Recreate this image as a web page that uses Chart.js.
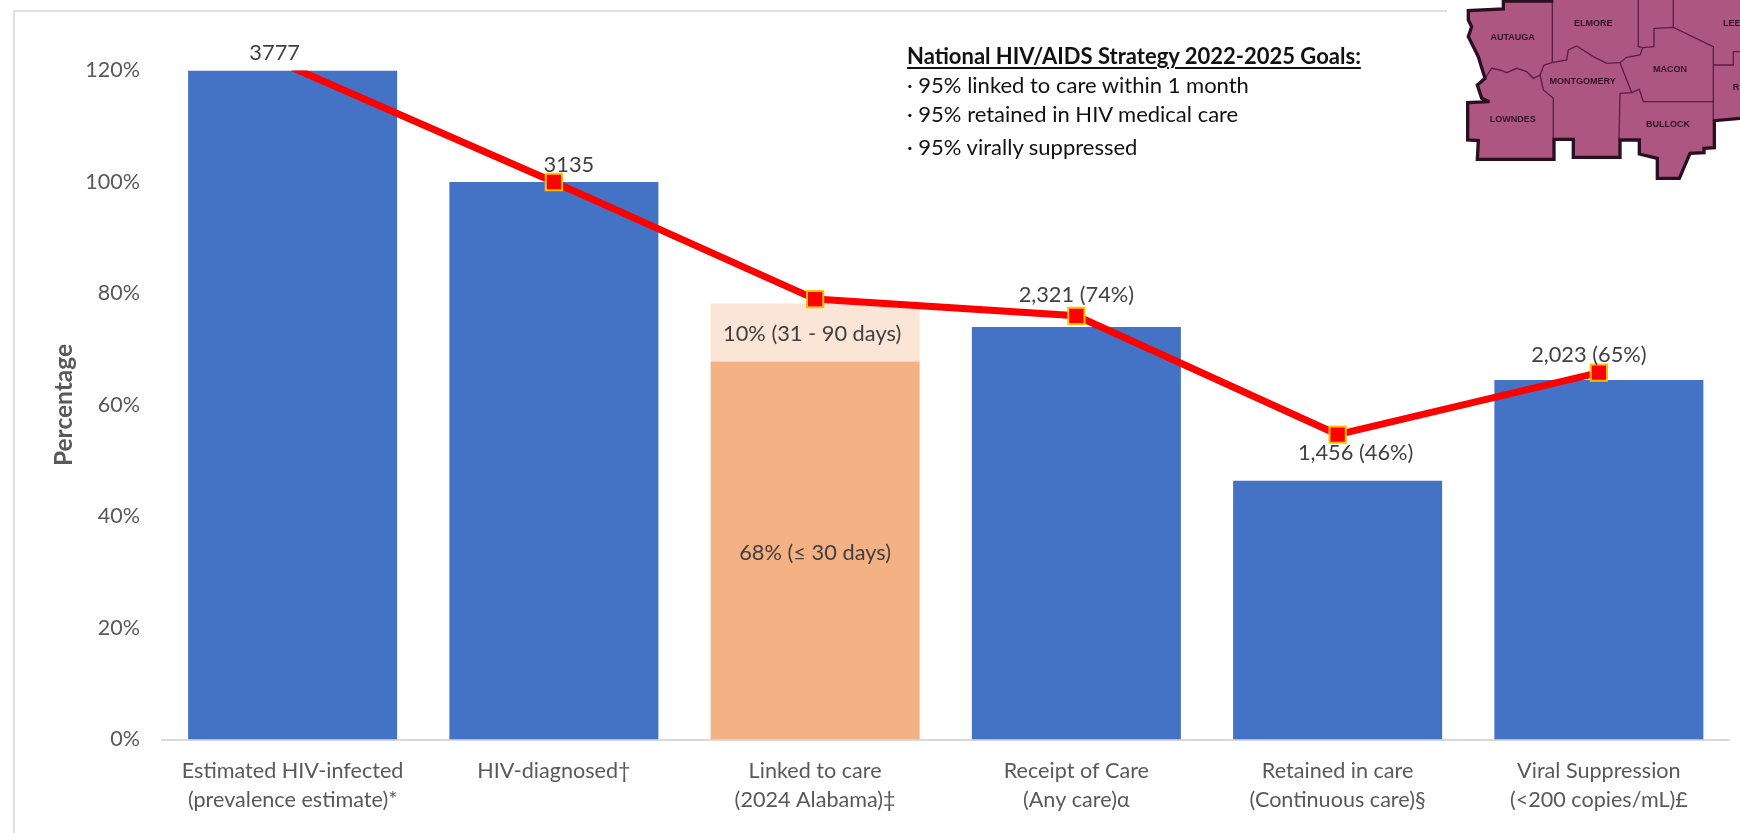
<!DOCTYPE html>
<html><head><meta charset="utf-8">
<style>
html,body{margin:0;padding:0;background:#fff;width:1740px;height:833px;overflow:hidden}
#c{position:absolute;left:0;top:0}
.frame{position:absolute;left:13px;top:10px;width:1434px;height:823px;border-left:2px solid #e0e0e0;border-top:2px solid #e0e0e0;box-sizing:border-box}
.goal{position:absolute;left:907px;font:22px "Lato",sans-serif;color:#111;white-space:nowrap;line-height:24px}
.goal.t{font-weight:700;text-decoration:underline;text-decoration-thickness:2px;text-underline-offset:3px}
svg{position:absolute;left:1400px;top:0;filter:blur(.5px)}
svg text{font:700 27px "Liberation Sans",sans-serif;fill:#321428;text-anchor:middle;dominant-baseline:middle}
</style>
</head><body>
<div class="frame"></div>
<canvas id="c" width="1740" height="833"></canvas>
<div class="goal t" style="top:44px">National HIV/AIDS Strategy 2022-2025 Goals:</div>
<div class="goal" style="top:73px">· 95% linked to care within 1 month</div>
<div class="goal" style="top:102px">· 95% retained in HIV medical care</div>
<div class="goal" style="top:135px">· 95% virally suppressed</div>
<svg width="340" height="200" viewBox="0 0 1020 600">
<path fill="#ad5682" d="M310,0 L310,25 L205,32 L205,60 L215,80 L205,110 L235,170 L255,235 L232,255 L245,295 L268,305 L203,308 L203,420 L235,422 L232,478 L462,478 L462,418 L520,418 L520,472 L660,472 L660,420 L718,420 L718,462 L772,475 L772,535 L838,535 L870,460 L912,458 L912,445 L943,443 L943,362 L1020,355 L1020,0 Z"/>
<g fill="none" stroke="#5a1f45" stroke-width="4">
<path d="M457,0 L457,188"/>
<path d="M255,235 L275,205 L300,210 L320,218 L350,205 L380,215 L400,235 L420,225 L432,195 L457,188 L500,180 L505,150 L530,138 L580,170 L620,190 L660,188 L680,172 L720,165 L728,143 L715,140 L715,0"/>
<path d="M420,225 L430,270 L460,295 L460,418"/>
<path d="M660,188 L695,278 L660,280 L657,420"/>
<path d="M695,278 L718,268 L730,305 L940,305"/>
<path d="M728,143 L762,140 L762,85 L820,82 L940,140 L940,362"/>
<path d="M820,82 L820,0"/>
<path d="M940,195 L1000,195 L1000,155 L1020,155"/>
</g>
<path fill="none" stroke="#2a0f20" stroke-width="10" d="M460,3 L310,3 L310,27 L205,32 L205,60 L215,80 L205,110 L235,170 L255,235 L232,255 L245,295 L268,305 L203,308 L203,420 L235,422 L232,478 L462,478 L462,418 L520,418 L520,472 L660,472 L660,420 L718,420 L718,462 L772,475 L772,535 L838,535 L870,460 L912,458 L912,445 L943,443 L943,362 L1020,355"/>
<text x="338" y="112">AUTAUGA</text><text x="580" y="72">ELMORE</text><text x="995" y="70">LEE</text>
<text x="810" y="210">MACON</text><text x="548" y="246">MONTGOMERY</text><text x="338" y="358">LOWNDES</text>
<text x="804" y="375">BULLOCK</text><text x="1008" y="262">R</text>
</svg>
<script src="https://cdn.jsdelivr.net/npm/chart.js@4"></script>
<script>
const categories = [
  ['Estimated HIV-infected','(prevalence estimate)*'],
  ['HIV-diagnosed†'],
  ['Linked to care','(2024 Alabama)‡'],
  ['Receipt of Care','(Any care)α'],
  ['Retained in care','(Continuous care)§'],
  ['Viral Suppression','(<200 copies/mL)£']
];
const blueBars   = [120, 100, null, 74, 46.4, 64.5];
const linkedLow  = [null, null, 67.8, null, null, null];
const linkedHigh = [null, null, 10.4, null, null, null];
const redLine    = [120.5, 100, 79, 76, 54.7, 65.8];
const topLabels  = ['3777','3135','','2,321 (74%)','1,456 (46%)','2,023 (65%)'];
const linkedLabels = ['68% (≤ 30 days)','10% (31 - 90 days)'];
const yTicks = [0,20,40,60,80,100,120];

const font = '"Lato",sans-serif';
const labelPlugin = {
  id:'labels',
  afterDatasetsDraw(chart){
    const {ctx,scales:{x,y}} = chart;
    ctx.save();
    ctx.font = '21.8px '+font;
    ctx.fillStyle = '#404040';
    ctx.textAlign = 'center';
    ctx.textBaseline = 'middle';
    const offs = [[-18,-18],[15,-17],[0,0],[0,-21],[18,-28],[-10,-18]];
    const anchors = [blueBars[0],redLine[1],0,redLine[3],blueBars[4],redLine[5]];
    topLabels.forEach((t,i)=>{
      if(!t) return;
      ctx.fillText(t, x.getPixelForValue(i)+offs[i][0], y.getPixelForValue(anchors[i])+offs[i][1]);
    });
    ctx.fillText(linkedLabels[0], x.getPixelForValue(2), y.getPixelForValue(33.5));
    ctx.fillText(linkedLabels[1], x.getPixelForValue(2)-3, y.getPixelForValue(72.7));
    ctx.restore();
  }
};

new Chart(document.getElementById('c'),{
  data:{
    labels:categories,
    datasets:[
      {type:'line',data:redLine,order:0,borderColor:'#ff0000',borderWidth:7,tension:0,clip:0,
       pointStyle:'rect',pointBackgroundColor:'#ff0000',pointBorderColor:'#ffc000',pointBorderWidth:2,
       pointRadius:[0,11.5,11.5,11.5,11.5,11.5],pointHoverRadius:11.5,stack:'line'},
      {type:'bar',data:blueBars,order:1,backgroundColor:'#4472c4',barPercentage:1,categoryPercentage:0.8,stack:'b'},
      {type:'bar',data:linkedLow,order:1,backgroundColor:'#f4b183',barPercentage:1,categoryPercentage:0.8,stack:'b'},
      {type:'bar',data:linkedHigh,order:1,backgroundColor:'#fbe5d6',barPercentage:1,categoryPercentage:0.8,stack:'b'}
    ]
  },
  options:{
    responsive:false,animation:false,
    layout:{autoPadding:false,padding:{top:70.5,right:10.5,left:0,bottom:0}},
    plugins:{legend:{display:false},tooltip:{enabled:false}},
    scales:{
      x:{stacked:true,
         grid:{display:false,drawTicks:false},
         border:{color:'#d9d9d9',width:2},
         ticks:{color:'#595959',font:{family:font,size:21.6,lineHeight:1.35},padding:17,maxRotation:0,autoSkip:false},
         afterFit(s){s.height=93.5;s.paddingRight=0;s.paddingLeft=0;}},
      y:{stacked:true,min:0,max:120,
         grid:{display:false,drawTicks:false},
         border:{display:false},
         afterBuildTicks(s){s.ticks=yTicks.map(v=>({value:v}));},
         ticks:{color:'#595959',font:{family:font,size:21.5},padding:22,callback:v=>v+'%'},
         title:{display:true,text:'Percentage',color:'#595959',font:{family:font,size:24.5,weight:'bold'},padding:{top:49,bottom:0}},
         afterFit(s){s.width=162;}}
    }
  },
  plugins:[labelPlugin]
});
</script>
</body></html>
